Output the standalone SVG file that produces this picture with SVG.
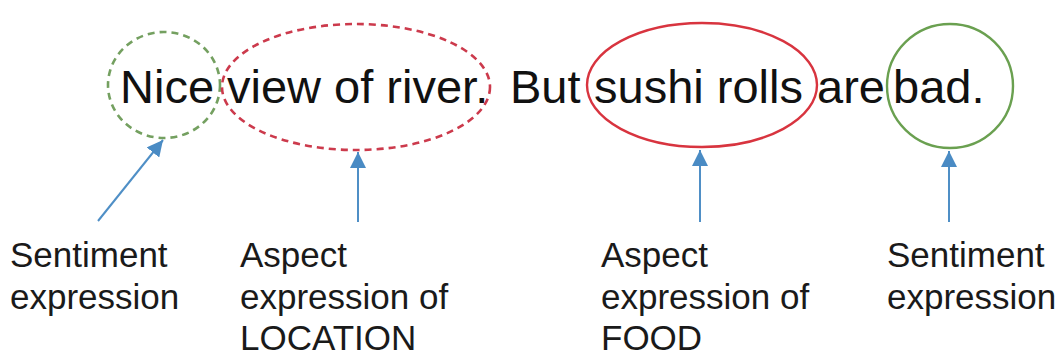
<svg xmlns="http://www.w3.org/2000/svg" width="1062" height="356" viewBox="0 0 1062 356">
<style>
.sent{font-family:"Liberation Sans",Arial,sans-serif;font-size:47px;fill:#111;}
.lbl{font-family:"Liberation Sans",Arial,sans-serif;font-size:35px;fill:#1a1a1a;}
.dg{fill:none;stroke:#74a060;stroke-width:2.6;stroke-dasharray:7 5;}
.dr{fill:none;stroke:#cc3a4c;stroke-width:2.6;stroke-dasharray:7 5;}
.sg{fill:none;stroke:#6aa050;stroke-width:2.4;}
.sr{fill:none;stroke:#d8343f;stroke-width:2.4;}
.arr{stroke:#4f8fc6;stroke-width:2;fill:none;marker-end:url(#ah);}
</style>
<defs>
<marker id="ah" viewBox="0 0 16 16" refX="16" refY="8" markerWidth="16" markerHeight="16" markerUnits="userSpaceOnUse" orient="auto">
<path d="M0,0 L16,8 L0,16 z" fill="#4a8bc4"/>
</marker>
</defs>
<rect width="1062" height="356" fill="#ffffff"/>
<g id="sentence">
<text class="sent" x="120" y="103">Nice</text>
<text class="sent" x="227" y="103">view of river.</text>
<text class="sent" x="510" y="103">But</text>
<text class="sent" x="594" y="103">sushi rolls</text>
<text class="sent" x="817" y="103">are</text>
<text class="sent" x="893" y="103">bad.</text>
</g>
<g id="node-nice"><ellipse class="dg" cx="164" cy="85" rx="56" ry="53"/></g>
<g id="node-river"><ellipse class="dr" cx="356" cy="87" rx="134" ry="63"/></g>
<g id="node-sushi"><ellipse class="sr" cx="702" cy="85" rx="115" ry="62"/></g>
<g id="node-bad"><ellipse class="sg" cx="950" cy="86" rx="63" ry="62"/></g>
<g id="connectors">
<line class="arr" x1="98" y1="221" x2="163" y2="140"/>
<line class="arr" x1="358" y1="222" x2="358" y2="152"/>
<line class="arr" x1="700" y1="222" x2="700" y2="150"/>
<line class="arr" x1="949" y1="222" x2="949" y2="151"/>
</g>
<g id="label-sentiment-1">
<text class="lbl" x="10" y="267">Sentiment</text>
<text class="lbl" x="10" y="309">expression</text>
</g>
<g id="label-location">
<text class="lbl" x="240" y="267">Aspect</text>
<text class="lbl" x="240" y="309">expression of</text>
<text class="lbl" x="240" y="350">LOCATION</text>
</g>
<g id="label-food">
<text class="lbl" x="601" y="267">Aspect</text>
<text class="lbl" x="601" y="309">expression of</text>
<text class="lbl" x="601" y="350">FOOD</text>
</g>
<g id="label-sentiment-2">
<text class="lbl" x="887" y="267">Sentiment</text>
<text class="lbl" x="887" y="309">expression</text>
</g>
</svg>
